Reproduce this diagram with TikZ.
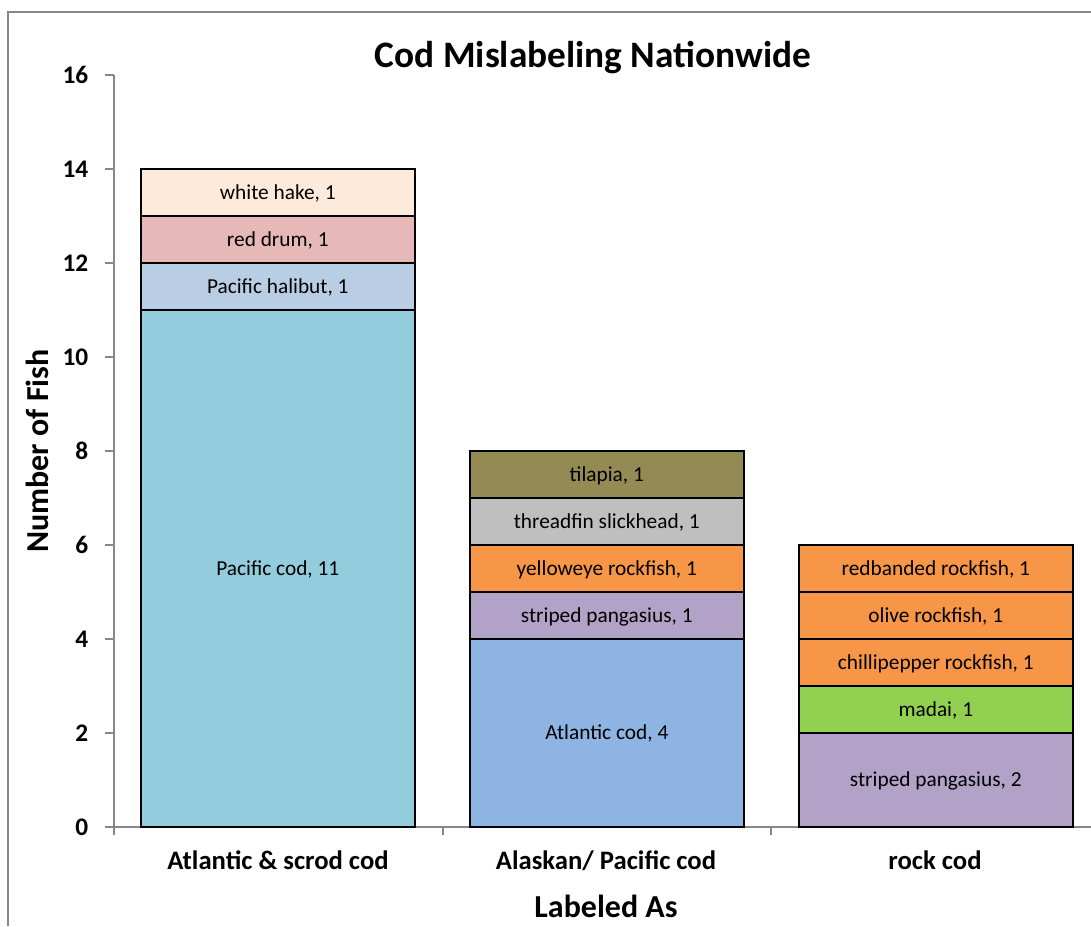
\documentclass[tikz,border=0pt]{standalone}
\usepackage{fontspec}
\setmainfont{Carlito}
\usetikzlibrary{positioning}

\definecolor{axisgray}{HTML}{878787}
\definecolor{pcodcol}{HTML}{93CDDD}
\definecolor{halcol}{HTML}{B9CDE5}
\definecolor{drumcol}{HTML}{E6B9B8}
\definecolor{hakecol}{HTML}{FDEADA}
\definecolor{acodcol}{HTML}{8EB4E3}
\definecolor{pangcol}{HTML}{B3A2C7}
\definecolor{rockcol}{HTML}{F79646}
\definecolor{slickcol}{HTML}{BFBFBF}
\definecolor{tilcol}{HTML}{948A54}
\definecolor{madaicol}{HTML}{92D050}

\newcommand{\fishh}{35.25pt}

\begin{document}
\begin{tikzpicture}[
        x=0.75pt, y=-0.75pt,
        seg/.style={draw=black, line width=1.4pt, rectangle, outer sep=0pt, inner sep=0pt,
            minimum width=205.2pt, minimum height=\fishh, text height=10.3pt, text depth=0pt,
            font=\fontsize{16}{19}\selectfont},
        axisline/.style={draw=axisgray, line width=1pt},
        ticklab/.style={font=\bfseries\fontsize{19}{22}\selectfont, anchor=east, inner sep=0pt},
        catlab/.style={font=\bfseries\fontsize{20}{24}\selectfont, text height=12.9pt, text depth=0pt},
        axtitle/.style={font=\bfseries\fontsize{24}{28}\selectfont}
    ]
        \useasboundingbox (0,0) rectangle (1091,926);
        \fill[white] (0,0) rectangle (1091,926);

        % frame and axes
        \draw[axisline] (8,926) -- (8,12) -- (1091,12);
        \draw[axisline] (114,75) -- (114,827) -- (1091,827);
        \foreach \v in {0,2,...,16}
            \draw[axisline] (105,{827-47*\v}) -- (114,{827-47*\v})
                node (tick\v) [ticklab] at (89,{827-47*\v}) {\v};
        \foreach \x in {114,443,771}
            \draw[axisline] (\x,827) -- (\x,835);

        % Atlantic & scrod cod
        \node (pcod) [seg, fill=pcodcol, minimum height=11*\fishh, anchor=south west] at (141,827) {Pacific cod, 11};
        \node (phal) [seg, fill=halcol, above=0pt of pcod] {Pacific halibut, 1};
        \node (rdrum) [seg, fill=drumcol, above=0pt of phal] {red drum, 1};
        \node (whake) [seg, fill=hakecol, above=0pt of rdrum] {white hake, 1};

        % Alaskan/ Pacific cod
        \node (acod) [seg, fill=acodcol, minimum height=4*\fishh, anchor=south west] at (470,827) {Atlantic cod, 4};
        \node (pang) [seg, fill=pangcol, above=0pt of acod] {striped pangasius, 1};
        \node (yeye) [seg, fill=rockcol, above=0pt of pang] {yelloweye rockfish, 1};
        \node (slick) [seg, fill=slickcol, above=0pt of yeye] {threadfin slickhead, 1};
        \node (tila) [seg, fill=tilcol, above=0pt of slick] {tilapia, 1};

        % rock cod
        \node (pang2) [seg, fill=pangcol, minimum height=2*\fishh, anchor=south west] at (799,827) {striped pangasius, 2};
        \node (madai) [seg, fill=madaicol, above=0pt of pang2] {madai, 1};
        \node (chili) [seg, fill=rockcol, above=0pt of madai] {chillipepper rockfish, 1};
        \node (olive) [seg, fill=rockcol, above=0pt of chili] {olive rockfish, 1};
        \node (redb) [seg, fill=rockcol, above=0pt of olive] {redbanded rockfish, 1};

        % labels
        \node (catA) [catlab] at (278,861) {Atlantic \& scrod cod};
        \node (catB) [catlab] at (606,861) {Alaskan/ Pacific cod};
        \node (catC) [catlab] at (935,861) {rock cod};
        \node (title) [font=\bfseries\fontsize{28}{32}\selectfont, text height=18pt, text depth=0pt] at (593,55) {Cod Mislabeling Nationwide};
        \node (ytitle) [axtitle, rotate=90] at (37,451) {Number of Fish};
        \node (xtitle) [axtitle] at (606,906) {Labeled As};
    \end{tikzpicture}
\end{document}
